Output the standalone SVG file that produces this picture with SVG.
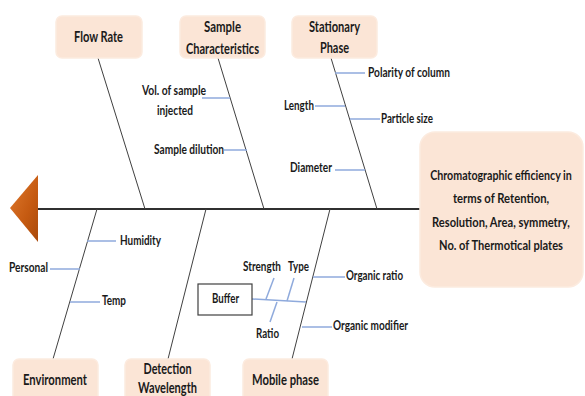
<svg xmlns="http://www.w3.org/2000/svg" width="585" height="396" viewBox="0 0 585 396">
<defs>
<linearGradient id="arrowGrad" x1="0" y1="0" x2="1" y2="1">
<stop offset="0" stop-color="#E07A2E"/>
<stop offset="0.6" stop-color="#C55A11"/>
<stop offset="1" stop-color="#A94A0C"/>
</linearGradient>
<style>
.box{fill:#FBE5D6;stroke:#FCEBDF;stroke-width:1.5}
.bone{stroke:#404040;stroke-width:1;fill:none}
.sub{stroke:#8FAADC;stroke-width:1.5;fill:none}
.t{font-family:Lato,"Liberation Sans",sans-serif;font-weight:bold;fill:#1a1a1a}
.s{font-size:12.5px}
.b{font-size:14.5px}
.e{font-size:13.5px}
</style>
</defs>
<rect width="585" height="396" fill="#ffffff"/>

<g id="connectors">
<line x1="38" y1="209" x2="420" y2="209" stroke="#303030" stroke-width="2"/>
<line class="bone" x1="98" y1="58" x2="145" y2="209"/>
<line class="bone" x1="218" y1="58" x2="264" y2="209"/>
<line class="bone" x1="331" y1="58" x2="377" y2="209"/>
<line class="bone" x1="97" y1="209" x2="53" y2="359"/>
<line class="bone" x1="206" y1="209" x2="168" y2="359"/>
<line class="bone" x1="330" y1="209" x2="292" y2="359"/>
<line class="sub" x1="202" y1="98" x2="230" y2="98"/>
<line class="sub" x1="224" y1="150" x2="247" y2="150"/>
<line class="sub" x1="335" y1="73" x2="365" y2="73"/>
<line class="sub" x1="315" y1="106" x2="345" y2="106"/>
<line class="sub" x1="350" y1="119" x2="380" y2="119"/>
<line class="sub" x1="335" y1="170" x2="365" y2="170"/>
<line class="sub" x1="87" y1="241" x2="116" y2="241"/>
<line class="sub" x1="50" y1="269" x2="80" y2="269"/>
<line class="sub" x1="70" y1="302" x2="100" y2="302"/>
<line class="sub" x1="313" y1="277" x2="345" y2="277"/>
<line class="sub" x1="302" y1="327" x2="332" y2="327"/>
<line class="sub" x1="252" y1="299" x2="306" y2="302"/>
<line class="sub" x1="274" y1="278" x2="266" y2="299"/>
<line class="sub" x1="294" y1="278" x2="287" y2="301"/>
<line class="sub" x1="277" y1="302" x2="270" y2="322"/>
</g>

<g id="head-arrow">
<polygon points="10,208 38,175 38,242" fill="url(#arrowGrad)"/>
</g>

<g id="flow-rate">
<rect class="box" x="56" y="16" width="86" height="42" rx="6"/>
<text class="t b" x="98.5" y="42" text-anchor="middle" textLength="49" lengthAdjust="spacingAndGlyphs">Flow Rate</text>
</g>

<g id="sample-characteristics">
<rect class="box" x="180" y="16" width="85" height="42" rx="6"/>
<text class="t b" x="222.5" y="32" text-anchor="middle" textLength="37" lengthAdjust="spacingAndGlyphs">Sample</text>
<text class="t b" x="222.5" y="54" text-anchor="middle" textLength="73" lengthAdjust="spacingAndGlyphs">Characteristics</text>
</g>

<g id="stationary-phase">
<rect class="box" x="292" y="16" width="85" height="42" rx="6"/>
<text class="t b" x="334.5" y="32" text-anchor="middle" textLength="51" lengthAdjust="spacingAndGlyphs">Stationary</text>
<text class="t b" x="334.5" y="53" text-anchor="middle" textLength="29" lengthAdjust="spacingAndGlyphs">Phase</text>
</g>

<g id="effect">
<rect class="box" x="420" y="132" width="163" height="155" rx="15"/>
<g transform="translate(501,0) scale(0.77,1)">
<text class="t e" x="0" y="180" text-anchor="middle" textLength="184" lengthAdjust="spacingAndGlyphs">Chromatographic efficiency in</text>
<text class="t e" x="0" y="203.5" text-anchor="middle" textLength="125" lengthAdjust="spacingAndGlyphs">terms of Retention,</text>
<text class="t e" x="0" y="227" text-anchor="middle" textLength="179" lengthAdjust="spacingAndGlyphs">Resolution, Area, symmetry,</text>
<text class="t e" x="0" y="250" text-anchor="middle" textLength="161" lengthAdjust="spacingAndGlyphs">No. of Thermotical plates</text>
</g>
</g>

<g id="environment">
<rect class="box" x="13" y="359" width="85" height="45" rx="6"/>
<text class="t b" x="55" y="385" text-anchor="middle" textLength="64" lengthAdjust="spacingAndGlyphs">Environment</text>
</g>

<g id="detection-wavelength">
<rect class="box" x="125" y="359" width="85" height="45" rx="6"/>
<text class="t b" x="167.5" y="374" text-anchor="middle" textLength="48" lengthAdjust="spacingAndGlyphs">Detection</text>
<text class="t b" x="167.5" y="393" text-anchor="middle" textLength="59" lengthAdjust="spacingAndGlyphs">Wavelength</text>
</g>

<g id="mobile-phase">
<rect class="box" x="243" y="359" width="85" height="45" rx="6"/>
<text class="t b" x="285.5" y="385" text-anchor="middle" textLength="67" lengthAdjust="spacingAndGlyphs">Mobile phase</text>
</g>

<g id="buffer">
<rect x="198" y="284" width="54" height="31" fill="#ffffff" stroke="#404040" stroke-width="1.2"/>
<text class="t s" x="225.5" y="303" text-anchor="middle" textLength="27" lengthAdjust="spacingAndGlyphs">Buffer</text>
</g>

<g id="labels">
<text class="t s" x="174" y="95" text-anchor="middle" textLength="64" lengthAdjust="spacingAndGlyphs">Vol. of sample</text>
<text class="t s" x="175" y="115" text-anchor="middle" textLength="36" lengthAdjust="spacingAndGlyphs">injected</text>
<text class="t s" x="154" y="154" textLength="70" lengthAdjust="spacingAndGlyphs">Sample dilution</text>
<text class="t s" x="368" y="77" textLength="82" lengthAdjust="spacingAndGlyphs">Polarity of column</text>
<text class="t s" x="284" y="110" textLength="30" lengthAdjust="spacingAndGlyphs">Length</text>
<text class="t s" x="381" y="123" textLength="52" lengthAdjust="spacingAndGlyphs">Particle size</text>
<text class="t s" x="290" y="172" textLength="42" lengthAdjust="spacingAndGlyphs">Diameter</text>
<text class="t s" x="120" y="245" textLength="41" lengthAdjust="spacingAndGlyphs">Humidity</text>
<text class="t s" x="9" y="272" textLength="39" lengthAdjust="spacingAndGlyphs">Personal</text>
<text class="t s" x="102" y="305" textLength="24" lengthAdjust="spacingAndGlyphs">Temp</text>
<g transform="translate(243,271) scale(0.78,1)">
<text class="t s" x="0" y="0" textLength="48.7" lengthAdjust="spacingAndGlyphs">Strength</text>
</g>
<g transform="translate(288,271) scale(0.78,1)">
<text class="t s" x="0" y="0" textLength="26.9" lengthAdjust="spacingAndGlyphs">Type</text>
</g>
<text class="t s" x="256" y="338" textLength="23" lengthAdjust="spacingAndGlyphs">Ratio</text>
<text class="t s" x="346" y="280" textLength="57" lengthAdjust="spacingAndGlyphs">Organic ratio</text>
<text class="t s" x="333" y="330" textLength="75" lengthAdjust="spacingAndGlyphs">Organic modifier</text>
</g>
</svg>
